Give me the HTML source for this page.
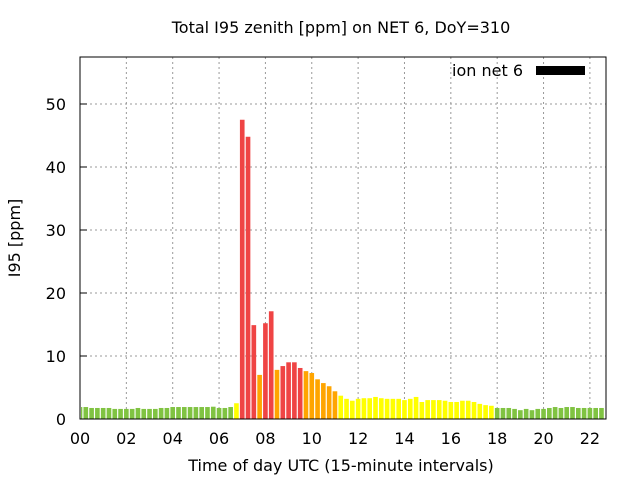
<!DOCTYPE html>
<html><head><meta charset="utf-8"><style>
body{margin:0;background:#fff;}
svg{display:block;font-family:"DejaVu Sans","Liberation Sans",sans-serif;}
</style></head><body>
<svg id="chart" width="640" height="480" xmlns="http://www.w3.org/2000/svg">
<rect width="640" height="480" fill="#fff"/>
<g id="grid"></g>
<g id="bars"></g>
<rect x="80" y="57" width="526" height="362" fill="none" stroke="#000" stroke-width="1"/>
<g id="axes"></g>
<text x="341" y="33" text-anchor="middle" font-size="16">Total I95 zenith [ppm] on NET 6, DoY=310</text>
<text x="341" y="471" text-anchor="middle" font-size="16">Time of day UTC (15-minute intervals)</text>
<text x="20" y="238" text-anchor="middle" font-size="16" transform="rotate(-90 20 238)">I95 [ppm]</text>
<g>
<text x="523" y="76" text-anchor="end" font-size="16">ion net 6</text>
<rect x="536" y="66" width="49" height="9" fill="#000"/>
</g>
</svg>
<script>
const values=[1.9,1.9,1.75,1.75,1.75,1.75,1.6,1.6,1.6,1.6,1.75,1.6,1.6,1.6,1.75,1.75,1.9,1.9,1.9,1.9,1.9,1.9,1.9,1.95,1.75,1.75,1.9,2.5,
47.5,44.8,14.9,7.0,15.2,17.1,7.8,8.4,9.0,9.0,8.1,7.6,7.3,6.3,5.7,5.2,4.4,3.7,
3.2,2.9,3.2,3.3,3.3,3.5,3.3,3.2,3.2,3.2,3.0,3.2,3.5,2.7,3.0,3.0,3.0,2.9,2.7,2.7,2.9,2.9,2.7,2.4,2.2,2.1,
1.75,1.75,1.75,1.6,1.4,1.6,1.4,1.6,1.6,1.75,1.9,1.75,1.9,1.9,1.75,1.75,1.75,1.75,1.75,1.6];
const yTicks=[0,10,20,30,40,50];
const xTickLabels=["00","02","04","06","08","10","12","14","16","18","20","22"];
const X0=80,X1=606,Y0=419,Y1=57,HOURS_MAX=22.695,Y_MAX=57.46;
const NS="http://www.w3.org/2000/svg";
function xs(h){return X0+(h/HOURS_MAX)*(X1-X0);}
function ys(v){return Y0-(v/Y_MAX)*(Y0-Y1);}
function mk(t,a,p){const e=document.createElementNS(NS,t);for(const k in a)e.setAttribute(k,a[k]);p.appendChild(e);return e;}
function color(v){return v<2?"#80c342":v<4?"#ffff00":v<8?"#ffa500":"#ef4444";}
const grid=document.getElementById('grid'),bars=document.getElementById('bars'),axes=document.getElementById('axes');
yTicks.forEach(t=>{
  const y=ys(t);
  if(t>0){const g=mk('line',{x1:X0,x2:X1,y1:y,y2:y,stroke:'#999','stroke-dasharray':'2,3'},grid);
  
  }
  const tk=mk('line',{x1:X0,x2:X0+7,y1:y,y2:y,stroke:'#000'},axes);
  
  
  const tx=mk('text',{x:66,y:y+6,'text-anchor':'end','font-size':16},axes);
  
  
  tx.textContent=t;
});
xTickLabels.forEach(l=>{
  const x=xs(parseInt(l,10));
  if(x>X0+1){const g=mk('line',{x1:x,x2:x,y1:Y1,y2:Y0,stroke:'#999','stroke-dasharray':'2,3'},grid);
  
  }
  const tx=mk('text',{x:x,y:444,'text-anchor':'middle','font-size':16},axes);
  
  
  tx.textContent=l;
});
const bw=xs(0.2)-xs(0);
values.forEach((v,i)=>{
  const c=xs(i*0.25);
  let l=c-bw/2,r=c+bw/2;
  l=Math.max(l,X0+1);r=Math.min(r,X1-1);
  if(r<=l)return;
  const y=ys(v);
  const b=mk('rect',{x:l,y:y,width:r-l,height:Y0-y,fill:color(v)},bars);
  
  
});
</script>
</body></html>
